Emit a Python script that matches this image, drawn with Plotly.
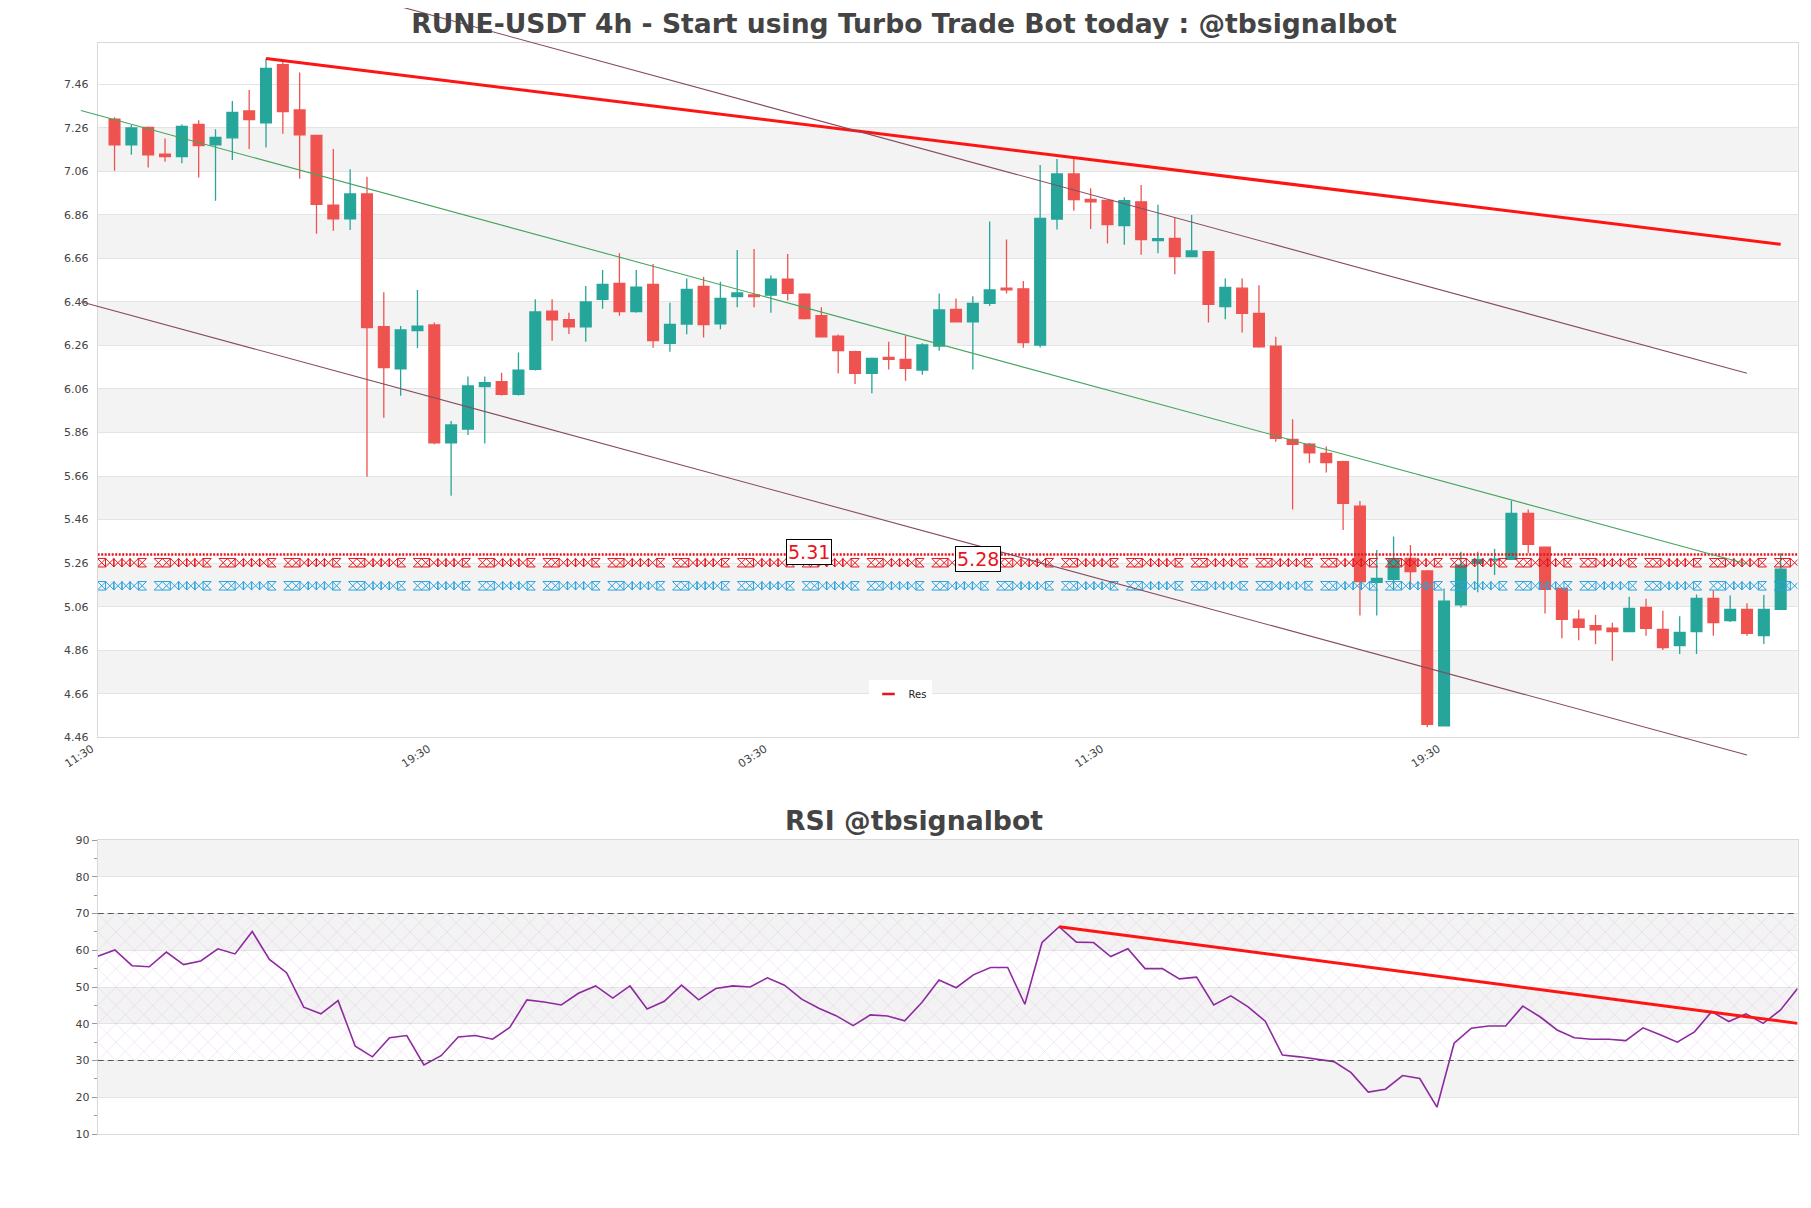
import numpy as np
import pandas as pd
import plotly.graph_objects as go

W, H = 1811, 1208

title_text = "RUNE-USDT 4h - Start using Turbo Trade Bot today : @tbsignalbot"
rsi_title = "RSI @tbsignalbot"
start_time = "2023-03-06 11:30"   # axis origin (first tick label 11:30)
x_tick_idx = [0, 20, 40, 60, 80]

opens = [7.299, 7.182, 7.262, 7.139, 7.127, 7.276, 7.182, 7.214, 7.337, 7.283,
         7.550, 7.342, 7.225, 6.905, 6.842, 6.956, 6.346, 6.153, 6.328, 6.354,
         5.813, 5.876, 6.071, 6.094, 6.035, 6.150, 6.418, 6.379, 6.346, 6.472,
         6.545, 6.415, 6.541, 6.270, 6.358, 6.531, 6.359, 6.484, 6.492, 6.491,
         6.565, 6.496, 6.397, 6.303, 6.231, 6.132, 6.205, 6.196, 6.147, 6.257,
         6.426, 6.369, 6.453, 6.523, 6.520, 6.262, 6.841, 7.048, 6.931, 6.926,
         6.811, 6.920, 6.742, 6.752, 6.668, 6.691, 6.438, 6.523, 6.407, 6.257,
         5.829, 5.807, 5.764, 5.726, 5.522, 5.172, 5.186, 5.282, 5.224, 4.513,
         5.068, 5.259, 5.275, 5.277, 5.489, 5.333, 5.144, 5.003, 4.973, 4.961,
         4.945, 5.057, 4.956, 4.881, 4.945, 5.098, 4.996, 5.048, 4.927, 5.048]
highs = [7.308, 7.273, 7.266, 7.211, 7.275, 7.294, 7.253, 7.383, 7.433, 7.577,
         7.563, 7.514, 7.228, 7.162, 7.070, 7.035, 6.504, 6.349, 6.515, 6.365,
         5.913, 6.117, 6.117, 6.135, 6.228, 6.472, 6.472, 6.410, 6.533, 6.607,
         6.683, 6.607, 6.634, 6.456, 6.568, 6.576, 6.553, 6.698, 6.703, 6.583,
         6.680, 6.500, 6.436, 6.310, 6.236, 6.205, 6.277, 6.306, 6.270, 6.499,
         6.476, 6.486, 6.829, 6.747, 6.556, 7.089, 7.116, 7.116, 6.982, 6.930,
         6.941, 6.997, 6.906, 6.846, 6.859, 6.694, 6.568, 6.568, 6.536, 6.300,
         5.921, 5.812, 5.796, 5.730, 5.546, 5.320, 5.382, 5.343, 5.228, 5.144,
         5.312, 5.312, 5.326, 5.547, 5.506, 5.336, 5.148, 5.046, 5.022, 4.986,
         5.106, 5.096, 5.041, 5.016, 5.116, 5.136, 5.111, 5.076, 5.114, 5.306]
lows = [7.063, 7.136, 7.078, 7.104, 7.097, 7.031, 6.925, 7.112, 7.162, 7.169,
        7.233, 7.026, 6.773, 6.787, 6.790, 5.657, 5.928, 6.029, 6.247, 5.806,
        5.570, 5.849, 5.810, 6.030, 6.030, 6.145, 6.282, 6.313, 6.277, 6.429,
        6.396, 6.410, 6.250, 6.231, 6.312, 6.297, 6.334, 6.435, 6.435, 6.410,
        6.466, 6.379, 6.297, 6.132, 6.083, 6.040, 6.150, 6.098, 6.126, 6.236,
        6.366, 6.150, 6.441, 6.499, 6.250, 6.251, 6.793, 6.879, 6.795, 6.728,
        6.723, 6.677, 6.683, 6.587, 6.665, 6.365, 6.380, 6.320, 6.250, 5.818,
        5.507, 5.719, 5.676, 5.412, 5.019, 5.019, 5.137, 5.142, 4.506, 4.510,
        5.056, 5.126, 5.206, 5.275, 5.306, 5.029, 4.915, 4.906, 4.887, 4.812,
        4.945, 4.926, 4.861, 4.843, 4.843, 4.926, 4.990, 4.926, 4.889, 5.046]
closes = [7.182, 7.259, 7.136, 7.127, 7.266, 7.178, 7.216, 7.331, 7.297, 7.533,
          7.334, 7.228, 6.908, 6.842, 6.956, 6.342, 6.158, 6.331, 6.349, 5.813,
          5.895, 6.074, 6.089, 6.035, 6.147, 6.414, 6.378, 6.346, 6.460, 6.541,
          6.415, 6.528, 6.282, 6.357, 6.518, 6.356, 6.476, 6.501, 6.485, 6.565,
          6.499, 6.383, 6.300, 6.236, 6.132, 6.201, 6.196, 6.155, 6.262, 6.423,
          6.369, 6.453, 6.515, 6.515, 6.273, 6.844, 7.048, 6.930, 6.920, 6.815,
          6.925, 6.746, 6.751, 6.668, 6.694, 6.449, 6.527, 6.407, 6.254, 5.833,
          5.806, 5.767, 5.722, 5.535, 5.175, 5.190, 5.279, 5.221, 4.520, 5.086,
          5.251, 5.277, 5.278, 5.489, 5.346, 5.140, 5.002, 4.965, 4.954, 4.945,
          5.052, 4.961, 4.872, 4.942, 5.098, 4.987, 5.048, 4.938, 5.048, 5.232]

rsi = [58.4, 60.1, 55.8, 55.5, 59.5, 56.1, 57.1, 60.4, 59.0, 65.1,
       57.5, 53.9, 44.5, 42.7, 46.3, 33.9, 31.0, 36.2, 36.8, 28.8,
       31.3, 36.4, 36.8, 35.8, 39.0, 46.5, 45.9, 45.1, 48.3, 50.3,
       47.0, 50.3, 44.0, 46.1, 50.5, 46.5, 49.6, 50.3, 50.0, 52.5,
       50.5, 46.7, 44.2, 42.2, 39.5, 42.4, 42.1, 40.8, 45.8, 51.9,
       49.8, 53.3, 55.3, 55.3, 45.3, 62.1, 66.4, 62.2, 62.1, 58.3,
       60.4, 55.0, 55.0, 52.2, 52.7, 45.1, 47.6, 44.6, 40.7, 31.5,
       31.0, 30.4, 29.7, 26.7, 21.4, 22.2, 25.9, 25.1, 17.3, 34.7,
       38.8, 39.4, 39.4, 44.8, 41.9, 38.3, 36.2, 35.8, 35.8, 35.4,
       38.9, 37.0, 35.0, 37.8, 43.3, 40.6, 42.7, 40.1, 43.7, 49.6]

# trend lines: candle index (1 = first candle) and price
res_trend_idx = [10, 100]
res_trend_val = [7.578, 6.725]
chan_mid_idx = [-1, 98]
chan_mid_val = [7.339, 5.256]
chan_low_idx = [-1, 98]
chan_low_val = [6.461, 4.379]
chan_up_idx = [18, 98]
chan_up_val = [7.816, 6.132]
rsi_trend_idx = [56, 99]      # index into rsi list
rsi_trend_val = [66.4, 40.1]

res_level = 5.30
res_zone = 5.262
sup_zone = 5.156
level_labels = ["5.31", "5.28"]
level_label_val = [5.31, 5.28]
level_label_idx = [42.25, 52.3]

y_range = [4.46, 7.648]
y_tick_step = 0.2
rsi_range = [10, 90]
rsi_bands = [(20, 30), (40, 50), (60, 70), (80, 90)]
rsi_levels = [30, 70]

# ---------------- geometry (pixels inside the figure) ----------------
OFF = 8  # page body margin
X0, X1 = 97.7 - OFF, 1797.5 - OFF
MY_T, MY_B = 43.3 - OFF, 737.3 - OFF
RY_T, RY_B = 840.0 - OFF, 1134.0 - OFF

t0 = pd.Timestamp(start_time)
step = pd.Timedelta(hours=4)


def at(i):
    return t0 + step * i


dates = [at(i) for i in range(1, len(opens) + 1)]
x_range = [at(0), at(len(opens) + 1)]
mpp = (x_range[1] - x_range[0]) / (X1 - X0)
upp = (y_range[1] - y_range[0]) / (MY_B - MY_T)
x3_range = [x_range[0] - mpp * X0, x_range[0] + mpp * (W - X0)]
y3_range = [y_range[0] - upp * (H - MY_B), y_range[1] + upp * MY_T]

INC = "#26a69a"
DEC = "#ef5350"
GRID = "#e4e4e4"
BAND = "#f3f3f3"
FRAME = "#d9d9d9"
TXT = "#444444"
RED = "#e8141b"

fig = go.Figure()

fig.add_trace(go.Candlestick(
    x=dates, open=opens, high=highs, low=lows, close=closes,
    increasing=dict(line=dict(color=INC, width=1.3), fillcolor=INC),
    decreasing=dict(line=dict(color=DEC, width=1.3), fillcolor=DEC),
    whiskerwidth=0, showlegend=False, xaxis="x", yaxis="y", hoverinfo="skip"))

# resistance level (dotted)
fig.add_trace(go.Scatter(x=x_range, y=[res_level, res_level], mode="lines",
                         line=dict(color=RED, width=2.5, dash="2px,1.5px"),
                         showlegend=False, xaxis="x", yaxis="y", hoverinfo="skip"))

# patterned zone lines
pattern = ["hourglass-open", "bowtie-open", "bowtie-open", "bowtie-open",
           "bowtie-open", "hourglass-open", None, "hourglass-open"]
px_pos = np.arange(X0 + 4, X1 - 2, 8.1)
mk_x, mk_s = [], []
for k, p in enumerate(px_pos):
    s = pattern[k % len(pattern)]
    if s is None:
        continue
    mk_x.append(x_range[0] + mpp * (p - X0))
    mk_s.append(s)
for lvl, col in [(res_zone, RED), (sup_zone, "#2aa3de")]:
    fig.add_trace(go.Scatter(x=mk_x, y=[lvl] * len(mk_x), mode="markers",
                             marker=dict(symbol=mk_s, size=8.5, color=col,
                                         line=dict(color=col, width=1)),
                             showlegend=False, xaxis="x", yaxis="y", hoverinfo="skip"))

# resistance trend line
fig.add_trace(go.Scatter(x=[at(i) for i in res_trend_idx], y=res_trend_val, mode="lines",
                         line=dict(color="#ff1414", width=3),
                         showlegend=False, xaxis="x", yaxis="y", hoverinfo="skip"))

# legend entry
fig.add_trace(go.Scatter(x=[None], y=[None], mode="markers", name="Res",
                         marker=dict(symbol="line-ew-open", size=9, color=RED,
                                     line=dict(color=RED, width=2.5)),
                         xaxis="x", yaxis="y"))

# channel lines (unclipped overlay axes)
for idx, val, col in [(chan_up_idx, chan_up_val, "rgb(135,75,95)"),
                      (chan_mid_idx, chan_mid_val, "rgb(70,165,95)"),
                      (chan_low_idx, chan_low_val, "rgb(135,75,95)")]:
    fig.add_trace(go.Scatter(x=[at(i) for i in idx], y=val, mode="lines",
                             line=dict(color=col, width=1.1),
                             showlegend=False, xaxis="x3", yaxis="y3", hoverinfo="skip"))

# ---------------- RSI ----------------
fig.add_trace(go.Scatter(x=[dates[0], dates[-1], dates[-1], dates[0], dates[0]],
                         y=[rsi_levels[0], rsi_levels[0], rsi_levels[1], rsi_levels[1], rsi_levels[0]],
                         mode="lines", fill="toself", fillcolor="rgba(0,0,0,0)",
                         fillpattern=dict(shape="x", fgcolor="rgba(212,168,226,0.7)",
                                          size=13, solidity=0.06),
                         line=dict(width=0), showlegend=False,
                         xaxis="x2", yaxis="y2", hoverinfo="skip"))
fig.add_trace(go.Scatter(x=dates, y=rsi, mode="lines",
                         line=dict(color="#8e2aa0", width=1.6),
                         showlegend=False, xaxis="x2", yaxis="y2", hoverinfo="skip"))
fig.add_trace(go.Scatter(x=[dates[i] for i in rsi_trend_idx], y=rsi_trend_val, mode="lines",
                         line=dict(color="#ff1414", width=3),
                         showlegend=False, xaxis="x2", yaxis="y2", hoverinfo="skip"))

shapes = []
v = y_range[0] + y_tick_step
k = 0
while v + y_tick_step <= y_range[1]:
    if k % 2 == 0:
        shapes.append(dict(type="rect", xref="x domain", yref="y", x0=0, x1=1,
                           y0=v, y1=v + y_tick_step, fillcolor=BAND, line=dict(width=0),
                           layer="below"))
    v += y_tick_step
    k += 1
for a, b in rsi_bands:
    shapes.append(dict(type="rect", xref="x2 domain", yref="y2", x0=0, x1=1, y0=a, y1=b,
                       fillcolor=BAND, line=dict(width=0), layer="below"))
for lv in rsi_levels:
    shapes.append(dict(type="line", xref="x2 domain", yref="y2", x0=0, x1=1, y0=lv, y1=lv,
                       line=dict(color="#555555", width=1.2, dash="6px,4px"), layer="above"))

annotations = []
for txt, val, idx in zip(level_labels, level_label_val, level_label_idx):
    annotations.append(dict(x=at(idx), y=val, xref="x", yref="y", text=txt, showarrow=False,
                            font=dict(family="DejaVu Sans", size=19, color=RED),
                            bgcolor="white", bordercolor="black", borderwidth=1, borderpad=1))
annotations.append(dict(x=0.5, y=1 - (820 - OFF) / H, xref="paper", yref="paper",
                        text="<b>" + rsi_title + "</b>", showarrow=False,
                        xanchor="center", yanchor="middle",
                        font=dict(family="DejaVu Sans", size=26.7, color=TXT)))

axis_font = dict(family="DejaVu Sans", size=11, color=TXT)

fig.update_layout(
    template="none",
    width=W, height=H,
    margin=dict(l=0, r=0, t=0, b=0, pad=0),
    paper_bgcolor="white", plot_bgcolor="rgba(0,0,0,0)",
    font=dict(family="DejaVu Sans", color=TXT),
    title=dict(text="<b>" + title_text + "</b>", x=(904 - OFF) / W, xanchor="center",
               y=1 - (24 - OFF) / H, yanchor="middle",
               font=dict(family="DejaVu Sans", size=26.6, color=TXT)),
    showlegend=True,
    legend=dict(x=(900 - OFF) / W, y=1 - (694 - OFF) / H, xanchor="center", yanchor="middle",
                bgcolor="white", borderwidth=0, itemwidth=30,
                font=dict(family="DejaVu Sans", size=10, color="#222222")),
    xaxis=dict(domain=[X0 / W, X1 / W], anchor="y", type="date", range=x_range,
               tickmode="array", tickvals=[at(i) for i in x_tick_idx],
               ticktext=[at(i).strftime("%H:%M") for i in x_tick_idx],
               tickangle=-33, tickfont=axis_font, showgrid=False, ticks="",
               ticklabelshift=-6,
               showline=True, mirror=True, linecolor=FRAME, linewidth=1,
               rangeslider=dict(visible=False), automargin=False, zeroline=False),
    yaxis=dict(domain=[1 - MY_B / H, 1 - MY_T / H], anchor="x", range=y_range,
               tick0=y_range[0], dtick=y_tick_step, tickformat=".2f",
               tickfont=axis_font, showgrid=True, gridcolor=GRID, gridwidth=1,
               ticks="", ticklabelstandoff=6,
               showline=True, mirror=True, linecolor=FRAME, linewidth=1,
               automargin=False, zeroline=False),
    xaxis2=dict(domain=[X0 / W, X1 / W], anchor="y2", type="date",
                range=[dates[0], dates[-1]], showticklabels=False, showgrid=False,
                ticks="", showline=True, mirror=True, linecolor=FRAME,
                automargin=False, zeroline=False),
    yaxis2=dict(domain=[1 - RY_B / H, 1 - RY_T / H], anchor="x2", range=rsi_range,
                tick0=10, dtick=10, tickfont=axis_font, showgrid=True, gridcolor=GRID,
                ticks="outside", ticklen=5, tickcolor="#999999",
                minor=dict(dtick=5, ticks="outside", ticklen=3, tickcolor="#999999", showgrid=False),
                showline=True, mirror=True, linecolor=FRAME, automargin=False, zeroline=False),
    xaxis3=dict(domain=[0, 1], anchor="y3", type="date", range=x3_range, visible=False,
                fixedrange=True),
    yaxis3=dict(domain=[0, 1], anchor="x3", range=y3_range, visible=False, fixedrange=True),
    boxgap=0.36, boxgroupgap=0,
    shapes=shapes,
    annotations=annotations,
)

fig.write_html("out.html")
